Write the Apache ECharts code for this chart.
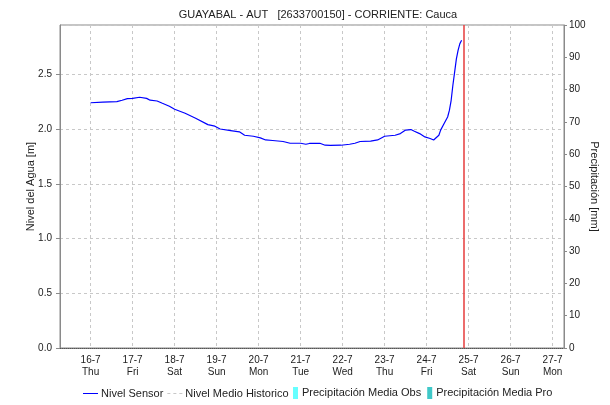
<!DOCTYPE html>
<html>
<head>
<meta charset="utf-8">
<script src="https://cdn.jsdelivr.net/npm/echarts@6/dist/echarts.min.js"></script>
<style>
  html, body { margin: 0; padding: 0; background: #fff; }
  #chart { width: 610px; height: 405px; }
</style>
</head>
<body>
<div id="chart"></div>
<script>
// Water level readings (sensor), timestamps and values in metres
const sensorTimes = [
  '2020-07-16 00:00', '2020-07-16 07:00', '2020-07-16 15:00', '2020-07-16 18:00', '2020-07-16 21:00',
  '2020-07-17 00:00', '2020-07-17 04:00', '2020-07-17 08:00', '2020-07-17 10:00', '2020-07-17 14:00',
  '2020-07-17 17:00', '2020-07-17 21:00', '2020-07-18 00:00', '2020-07-18 06:00', '2020-07-18 12:00',
  '2020-07-18 19:00', '2020-07-18 23:00', '2020-07-19 02:00', '2020-07-19 08:00', '2020-07-19 13:00',
  '2020-07-19 16:00', '2020-07-19 21:00', '2020-07-20 01:00', '2020-07-20 04:00', '2020-07-20 08:00',
  '2020-07-20 14:00', '2020-07-20 18:00', '2020-07-21 00:00', '2020-07-21 03:00', '2020-07-21 05:00',
  '2020-07-21 11:00', '2020-07-21 14:00', '2020-07-21 17:00', '2020-07-21 23:00', '2020-07-22 04:00',
  '2020-07-22 07:00', '2020-07-22 10:00', '2020-07-22 16:00', '2020-07-22 17:00', '2020-07-22 20:00',
  '2020-07-23 00:00', '2020-07-23 06:00', '2020-07-23 09:00', '2020-07-23 12:00', '2020-07-23 15:00',
  '2020-07-23 17:00', '2020-07-23 20:00', '2020-07-23 23:00', '2020-07-24 02:00', '2020-07-24 04:00',
  '2020-07-24 07:00', '2020-07-24 08:00', '2020-07-24 10:00', '2020-07-24 12:00', '2020-07-24 13:00',
  '2020-07-24 14:00', '2020-07-24 15:00', '2020-07-24 16:00', '2020-07-24 17:00', '2020-07-24 18:00',
  '2020-07-24 19:00', '2020-07-24 20:00'
];
const sensorLevels = [
  2.24, 2.245, 2.25, 2.263, 2.278,
  2.28, 2.29, 2.28, 2.263, 2.256,
  2.235, 2.208, 2.18, 2.144, 2.099,
  2.04, 2.026, 2.0, 1.986, 1.974,
  1.943, 1.934, 1.919, 1.90, 1.895,
  1.886, 1.87, 1.87, 1.861, 1.868,
  1.87, 1.852, 1.85, 1.852, 1.861,
  1.87, 1.886, 1.89, 1.88, 1.90,
  1.934, 1.943, 1.958, 1.99, 1.995,
  1.98, 1.958, 1.928, 1.913, 1.90,
  1.943, 1.99, 2.05, 2.11, 2.17,
  2.26, 2.40, 2.52, 2.64, 2.72,
  2.78, 2.81
];
// Historical mean level and rainfall series (no readings in this window)
const historicLevels = [];
const rainObserved = [];
const rainForecast = [];

const weekDays = ['Sun', 'Mon', 'Tue', 'Wed', 'Thu', 'Fri', 'Sat'];

// Parse 'YYYY-MM-DD HH:mm' as local time
function toTime(s) {
  const [d, t] = s.split(' ');
  const [y, m, day] = d.split('-').map(Number);
  const [h, mi] = t.split(':').map(Number);
  return new Date(y, m - 1, day, h, mi).getTime();
}

const axisStart = toTime('2020-07-15 06:30');
const axisEnd = toTime('2020-07-27 06:30');
const nowMarker = toTime('2020-07-24 21:00');

const FONT = 'Liberation Sans, Arial, sans-serif';
const solidLineIcon = 'path://M0,0h15v1h-15z';
const dashLineIcon = 'path://M0,0h3v1h-3z M6,0h3v1h-3z M12,0h3v1h-3z';

const chart = echarts.init(document.getElementById('chart'), null, { renderer: 'canvas' });

chart.setOption({
  animation: false,
  backgroundColor: '#ffffff',
  textStyle: { fontFamily: FONT },
  title: {
    text: 'GUAYABAL - AUT   [2633700150] - CORRIENTE: Cauca',
    left: 313,
    textAlign: 'center',
    top: 4,
    textStyle: { fontSize: 11, fontWeight: 'normal', color: '#222', fontFamily: FONT }
  },
  grid: {
    left: 60, right: 46, top: 25, bottom: 57,
    outerBoundsMode: 'none',
    containLabel: false,
    show: true, borderColor: '#8a8a8a', borderWidth: 1, backgroundColor: 'transparent'
  },
  legend: [
    {
      left: 83, top: 388, padding: 0,
      itemWidth: 15, itemHeight: 1.4, itemGap: 4,
      textStyle: { fontSize: 11, color: '#222', fontFamily: FONT, padding: [0, 0, 0, -2] },
      data: [
        { name: 'Nivel Sensor', icon: solidLineIcon, itemStyle: { color: '#0000ff' } },
        { name: 'Nivel Medio Historico', icon: dashLineIcon, itemStyle: { color: '#c8c8c8' } }
      ]
    },
    {
      left: 293, top: 387, padding: 0,
      itemWidth: 5, itemHeight: 12, itemGap: 6,
      textStyle: { fontSize: 11, color: '#222', fontFamily: FONT, padding: [0, 0, 0, -1] },
      data: [
        { name: 'Precipitación Media Obs', icon: 'rect' },
        { name: 'Precipitación Media Pro', icon: 'rect' }
      ]
    }
  ],
  xAxis: [
    {
      type: 'time',
      min: axisStart,
      max: axisEnd,
      splitNumber: 12,
      axisLine: { show: true, lineStyle: { color: '#555', type: 'dotted', width: 1 } },
      axisTick: { show: false },
      splitLine: { show: true, lineStyle: { color: '#c8c8c8', type: [3, 3], width: 1 } },
      axisLabel: {
        fontSize: 10, color: '#222', fontFamily: FONT, lineHeight: 12, margin: 6,
        hideOverlap: false,
        formatter: function (v) {
          const d = new Date(v);
          if (d.getHours() !== 0 || d.getMinutes() !== 0) return '';
          return d.getDate() + '-' + (d.getMonth() + 1) + '\n' + weekDays[d.getDay()];
        }
      }
    },
    {
      // rainfall bars share the grid on their own hidden axis
      type: 'category',
      show: false,
      data: []
    }
  ],
  yAxis: [
    {
      type: 'value',
      min: 0, max: 2.95, interval: 0.5,
      name: 'Nivel del Agua [m]',
      nameLocation: 'middle',
      nameGap: 24,
      nameRotate: 90,
      nameMoveOverlap: false,
      nameTextStyle: { fontSize: 11, color: '#222', fontFamily: FONT },
      axisLine: { show: true, lineStyle: { color: '#8a8a8a' } },
      axisTick: { show: true, length: 4, lineStyle: { color: '#8a8a8a' } },
      axisLabel: {
        fontSize: 10, color: '#222', margin: 8, fontFamily: FONT,
        showMaxLabel: false,
        formatter: function (v) { return v > 2.9 ? '' : v.toFixed(1); }
      },
      splitLine: { show: true, lineStyle: { color: '#c8c8c8', type: [3, 3], width: 1 } }
    },
    {
      type: 'value',
      min: 0, max: 100, interval: 10,
      position: 'right',
      name: 'Precipitación [mm]',
      nameLocation: 'middle',
      nameGap: 25,
      nameRotate: -90,
      nameMoveOverlap: false,
      nameTextStyle: { fontSize: 11, color: '#222', fontFamily: FONT },
      axisLine: { show: true, lineStyle: { color: '#8a8a8a' } },
      axisTick: { show: true, length: 3, lineStyle: { color: '#8a8a8a' } },
      axisLabel: { fontSize: 10, color: '#222', margin: 5, fontFamily: FONT },
      splitLine: { show: false }
    }
  ],
  series: [
    {
      name: 'Nivel Sensor',
      type: 'line',
      symbol: 'none',
      color: '#0000ff',
      lineStyle: { color: '#0000ff', width: 1.2 },
      data: sensorTimes.map((t, i) => [toTime(t), sensorLevels[i]]),
      markLine: {
        silent: true,
        symbol: 'none',
        label: { show: false },
        lineStyle: { color: '#e84848', width: 1.6, type: 'solid' },
        data: [{ xAxis: nowMarker }]
      }
    },
    {
      name: 'Nivel Medio Historico',
      type: 'line',
      symbol: 'none',
      color: '#c8c8c8',
      lineStyle: { color: '#c8c8c8', width: 1.2, type: [3, 3] },
      data: historicLevels
    },
    {
      name: 'Precipitación Media Obs',
      type: 'bar',
      xAxisIndex: 1,
      yAxisIndex: 1,
      color: '#66ffff',
      data: rainObserved
    },
    {
      name: 'Precipitación Media Pro',
      type: 'bar',
      xAxisIndex: 1,
      yAxisIndex: 1,
      color: '#40c8c8',
      data: rainForecast
    }
  ]
});
</script>
</body>
</html>
